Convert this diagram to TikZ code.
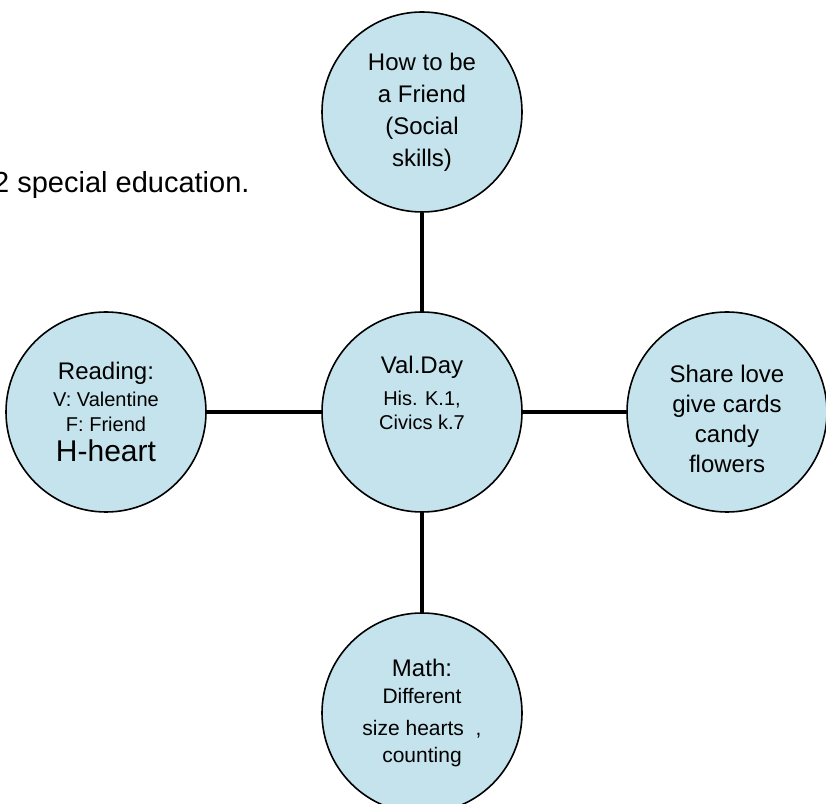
\documentclass[tikz,border=0pt]{standalone}
\usepackage{fontspec}
\setmainfont{Liberation Sans}
\definecolor{bubble}{RGB}{197,227,236}
\newcommand{\bigtxt}{\fontsize{24}{30}\selectfont}
\newcommand{\smalltxt}{\fontsize{20}{25}\selectfont}
\newcommand{\handtxt}{\fontsize{30}{33}\selectfont}

\begin{document}
\begin{tikzpicture}[x=1pt,y=1pt,
	topic/.style={circle, draw=black, line width=1.6pt, fill=bubble, minimum size=200pt, inner sep=0pt, align=center},
	link/.style={line width=3.6pt}]

	\clip (0,0) rectangle (826,803);
	\fill[white] (0,0) rectangle (826,803);

	% heading (cut at the left edge)
	\node[anchor=base west, inner sep=0pt, font=\fontsize{29}{34}\selectfont] (note) at (-7,610) {2 special education.};

	% circles
	\node[topic] (hub) at (422,391) {};
	\node[align=center, font=\fontsize{20}{24}\selectfont] (hubtext) at ([yshift=19pt]hub.center) {{\bigtxt Val.Day}\\[8pt]His. K.1,\\Civics k.7};
	\node[topic, font=\fontsize{24}{32}\selectfont] (friend) at (422,691) {How to be\\a Friend\\(Social\\skills)};
	\node[topic, font=\smalltxt] (reading) at (106,391) {{\bigtxt Reading:}\\[2pt]V: Valentine\\F: Friend\\[5pt]{\handtxt H-heart}};
	\node[topic] (share) at (727,391) {};
	\node[align=center, font=\bigtxt] (sharetext) at ([yshift=-7pt]share.center) {Share love\\give cards\\candy\\flowers};
	\node[topic, font=\fontsize{21}{27}\selectfont] (math) at (422,90) {{\bigtxt Math:}\\Different\\[5pt]size hearts\ \ ,\\counting};

	% connectors
	\draw[link] (friend) -- (hub);
	\draw[link] (hub) -- (math);
	\draw[link] (reading) -- (hub);
	\draw[link] (hub) -- (share);

\end{tikzpicture}
\end{document}
